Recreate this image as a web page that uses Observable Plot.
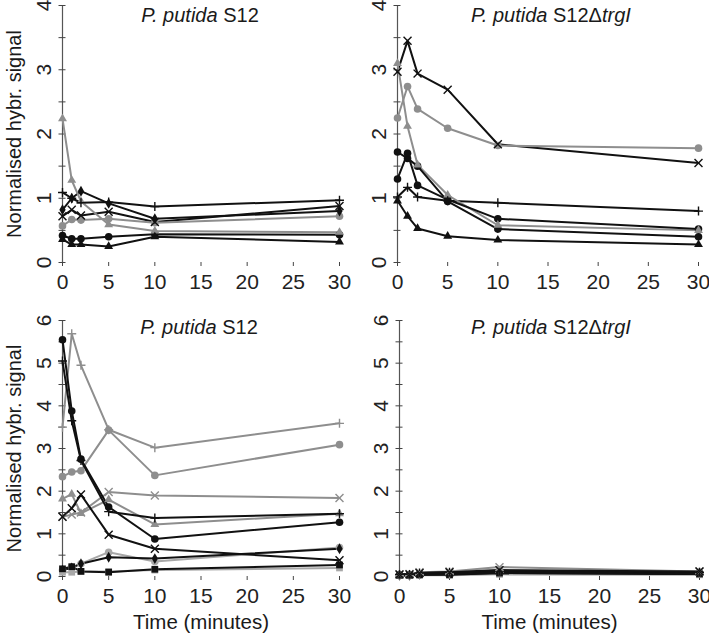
<!DOCTYPE html>
<html><head><meta charset="utf-8">
<script src="https://cdn.jsdelivr.net/npm/d3@7"></script>
<script src="https://cdn.jsdelivr.net/npm/@observablehq/plot@0.6"></script>
<style>
body{margin:0;background:#fff;font-family:"Liberation Sans",Arial,sans-serif;}
#wrap{position:relative;width:709px;height:637px;overflow:hidden;background:#fff;}
.panel{position:absolute;}
.title{position:absolute;font-size:20px;line-height:24px;color:#1a1a1a;white-space:nowrap;transform:translateX(-50%);}
</style></head><body><div id="wrap"></div>
<script>
// ---------- data ----------
const times = [0, 1, 2, 5, 10, 30];
const xTicks = [0, 5, 10, 15, 20, 25, 30];
const yLabel = "Normalised hybr. signal";
const xLabel = "Time (minutes)";

// top row (y 0–4)
const topS12Series = ["A", "B", "C", "D", "E", "F", "G"];
const topS12Values = [
  [1.09, 1.00, 0.93, 0.94, 0.87, 0.97],
  [0.82, 1.00, 1.11, 0.92, 0.68, 0.80],
  [0.72, 0.82, 0.73, 0.79, 0.63, 0.88],
  [0.57, 0.67, 0.66, 0.68, 0.62, 0.72],
  [2.24, 1.28, 0.95, 0.59, 0.49, 0.47],
  [0.42, 0.37, 0.37, 0.40, 0.44, 0.43],
  [0.36, 0.28, 0.28, 0.25, 0.40, 0.32]
];
const topDeltaSeries = ["A", "C", "D", "E", "F", "H", "G"];
const topDeltaValues = [
  [1.02, 1.17, 1.02, 0.96, 0.93, 0.80],
  [2.97, 3.45, 2.94, 2.69, 1.84, 1.55],
  [2.25, 2.74, 2.39, 2.09, 1.82, 1.78],
  [3.10, 2.12, 1.52, 1.05, 0.58, 0.50],
  [1.72, 1.62, 1.50, 0.95, 0.52, 0.40],
  [1.30, 1.70, 1.20, 0.98, 0.68, 0.52],
  [0.96, 0.72, 0.53, 0.41, 0.35, 0.28]
];

// bottom row (y 0–6)
const bottomSeries = ["I", "J", "M", "N", "P", "S", "K", "L", "O", "Q", "R"];
const bottomS12Values = [
  [3.50, 5.69, 4.95, 3.44, 3.02, 3.59],
  [2.34, 2.45, 2.48, 3.43, 2.37, 3.09],
  [1.40, 1.45, 1.50, 1.98, 1.90, 1.84],
  [1.82, 1.93, 1.48, 1.80, 1.22, 1.47],
  [0.15, 0.22, 0.30, 0.57, 0.35, 0.68],
  [0.10, 0.10, 0.12, 0.12, 0.15, 0.20],
  [5.55, 3.88, 2.75, 1.63, 0.88, 1.27],
  [5.05, 3.65, 2.72, 1.52, 1.37, 1.47],
  [1.40, 1.60, 1.92, 0.98, 0.65, 0.38],
  [0.15, 0.20, 0.30, 0.45, 0.42, 0.65],
  [0.18, 0.23, 0.12, 0.10, 0.17, 0.27]
];
const bottomDeltaValues = [
  [0.03, 0.03, 0.05, 0.06, 0.12, 0.08],
  [0.04, 0.04, 0.06, 0.08, 0.15, 0.10],
  [0.05, 0.06, 0.10, 0.12, 0.22, 0.12],
  [0.04, 0.04, 0.06, 0.07, 0.14, 0.09],
  [0.03, 0.03, 0.04, 0.05, 0.08, 0.06],
  [0.02, 0.02, 0.03, 0.03, 0.05, 0.04],
  [0.03, 0.03, 0.04, 0.05, 0.08, 0.06],
  [0.05, 0.05, 0.08, 0.10, 0.12, 0.10],
  [0.05, 0.05, 0.08, 0.10, 0.15, 0.12],
  [0.03, 0.03, 0.05, 0.06, 0.10, 0.07],
  [0.03, 0.03, 0.04, 0.04, 0.08, 0.06]
];

// ---------- styles ----------
const BLACK = "#111", GRAY = "#8e8e8e", LIGHT = "#a8a8a8";
const seriesStyle = {
  A: [BLACK, "plus"], B: [BLACK, "diamond"], C: [BLACK, "times"], D: [GRAY, "circle"],
  E: [GRAY, "triangle"], F: [BLACK, "circle"], G: [BLACK, "triangle"], H: [BLACK, "circle"],
  I: [GRAY, "plus"], J: [GRAY, "circle"], K: [BLACK, "circle"], L: [BLACK, "plus"],
  M: [GRAY, "times"], N: [GRAY, "triangle"], O: [BLACK, "times"], P: [LIGHT, "circle"],
  Q: [BLACK, "diamond"], R: [BLACK, "square"], S: [LIGHT, "square"]
};
const symbolSize = {circle: 3.8, triangle: 3.3, diamond: 3.3, square: 3.8, plus: 3, times: 3.7};

function rows(names, values) {
  const out = [];
  names.forEach((s, i) => values[i].forEach((v, j) => out.push({series: s, t: times[j], v,
    color: seriesStyle[s][0], symbol: seriesStyle[s][1]})));
  return out;
}

function panel({names, values, yMax, left, top, width, height, margin, showY, showX}) {
  const data = rows(names, values);
  const yTicks = d3.range(0, yMax + 0.001, 0.5);
  const yTickLabels = yTicks.filter(Number.isInteger);
  const marks = [
    Plot.ruleX([0], {stroke: "#555", strokeWidth: 1.2}),
    Plot.axisY({ticks: yTicks, tickFormat: () => "", tickSize: 7, dx: 3.5, stroke: "#444", label: null}),
    Plot.text(yTickLabels, {y: d => d, text: d => String(d), frameAnchor: "left", rotate: -90, dx: -18,
      textAnchor: "middle", lineAnchor: "middle", fill: "#222", fontSize: 21}),
    Plot.axisX({ticks: xTicks, tickSize: 4, tickPadding: 8, stroke: "#444", fill: "#222", fontSize: 21, label: null}),
    Plot.line(data, {x: "t", y: "v", z: "series", stroke: "color", strokeWidth: 2})
  ];
  for (const [sym, r] of Object.entries(symbolSize)) {
    const sub = data.filter(d => d.symbol === sym);
    if (!sub.length) continue;
    if (sym === "plus" || sym === "times")
      marks.push(Plot.dot(sub, {x: "t", y: "v", symbol: "symbol", stroke: "color", strokeWidth: 1.4, r}));
    else
      marks.push(Plot.dot(sub, {x: "t", y: "v", symbol: "symbol", fill: "color", r}));
  }
  if (showY) marks.push(Plot.text([yLabel], {frameAnchor: "left", rotate: -90, dx: -48, textAnchor: "middle",
    fontSize: 20, fill: "#1a1a1a"}));
  if (showX) marks.push(Plot.text([xLabel], {frameAnchor: "bottom", dy: 52, textAnchor: "middle",
    fontSize: 20.5, fill: "#1a1a1a"}));
  const svg = Plot.plot({
    width, height,
    marginLeft: margin[0], marginRight: margin[1], marginTop: margin[2], marginBottom: margin[3],
    x: {domain: [0, 30]},
    y: {domain: [0, yMax]},
    style: {fontSize: "20px", fontFamily: "'Liberation Sans', Arial, sans-serif", background: "transparent", overflow: "visible"},
    marks
  });
  const div = document.createElement("div");
  div.className = "panel";
  div.style.left = left + "px"; div.style.top = top + "px";
  div.appendChild(svg);
  document.getElementById("wrap").appendChild(div);
}

function title(html, cx, cy) {
  const t = document.createElement("div");
  t.className = "title";
  t.innerHTML = html;
  t.style.left = cx + "px"; t.style.top = (cy - 12) + "px";
  document.getElementById("wrap").appendChild(t);
}

panel({names: topS12Series, values: topS12Values, yMax: 4, left: 0, top: 0, width: 355, height: 290, margin: [62, 16, 5, 28], showY: true});
panel({names: topDeltaSeries, values: topDeltaValues, yMax: 4, left: 355, top: 0, width: 354, height: 290, margin: [42, 11, 5, 28]});
panel({names: bottomSeries, values: bottomS12Values, yMax: 6, left: 0, top: 290, width: 355, height: 347, margin: [62, 16, 30, 61], showY: true, showX: true});
panel({names: bottomSeries, values: bottomDeltaValues, yMax: 6, left: 355, top: 290, width: 354, height: 347, margin: [44, 10, 30, 61], showX: true});

title("<i>P. putida</i> S12", 200, 15);
title("<i>P. putida</i> S12Δ<i>trgI</i>", 551, 15);
title("<i>P. putida</i> S12", 199, 327);
title("<i>P. putida</i> S12Δ<i>trgI</i>", 551, 327);
</script></body></html>
